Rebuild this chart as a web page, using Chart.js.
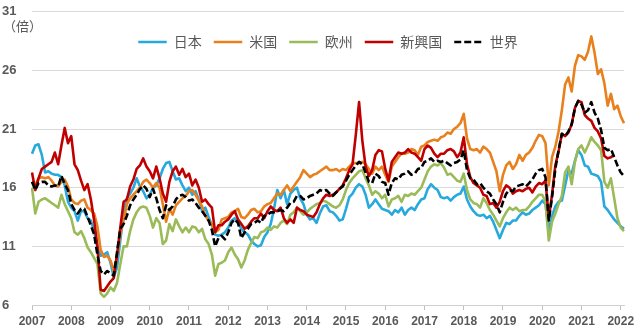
<!DOCTYPE html>
<html>
<head>
<meta charset="utf-8">
<script src="https://cdn.jsdelivr.net/npm/chart.js@4.4.1/dist/chart.umd.min.js"></script>
<style>
html,body{margin:0;padding:0;background:#ffffff;}
#wrap{width:640px;height:330px;}
</style>
</head>
<body>
<div id="wrap"><canvas id="c" width="640" height="330"></canvas></div>
<script>
// ---- data ----
const yearTicks = ['2007','2008','2009','2010','2011','2012','2013','2014','2015','2016','2017','2018','2019','2020','2021','2022'];
const lastYearMonths = 2; // data through Feb 2022
const seriesNames = ['日本','米国','欧州','新興国','世界'];
const unitLabel = '（倍）';

const japan = [
  18.9,19.6,19.7,18.8,17.3,17.4,17.2,17.1,17.1,16.9,16.2,14.8,
  14.3,14.0,13.2,14.0,14.0,13.4,13.2,12.3,10.9,10.2,10.3,10.5,
  9.6,8.4,9.2,11.5,13.8,15.1,15.5,16.0,16.8,16.1,15.7,15.1,
  15.4,16.0,16.2,16.8,17.6,18.1,18.2,17.4,16.7,16.8,16.2,15.7,
  16.0,15.4,15.7,15.0,14.0,14.3,13.5,12.8,12.0,11.9,12.0,12.2,
  12.6,13.2,13.4,13.0,12.5,12.2,12.0,11.5,11.2,11.0,11.1,11.8,
  12.2,12.9,14.2,15.8,15.1,15.8,14.6,15.5,15.8,16.0,15.1,14.6,
  13.7,13.3,13.4,13.0,13.8,14.4,14.5,14.0,13.9,13.6,13.2,13.3,
  14.2,15.2,15.5,16.0,16.3,16.1,15.4,14.3,14.6,15.0,14.6,14.2,
  14.1,14.0,13.7,14.1,13.9,14.3,13.7,14.1,14.3,14.1,14.6,15.0,
  15.1,15.9,16.3,16.0,15.8,15.2,15.1,15.2,14.9,15.2,15.4,15.5,
  16.1,15.0,14.4,14.0,13.7,13.6,13.7,13.4,13.6,13.1,12.4,11.7,
  12.4,13.0,12.9,13.2,13.2,13.6,13.9,13.7,13.8,14.1,14.3,14.5,
  14.9,14.6,12.3,13.6,14.4,14.8,14.9,16.2,17.5,17.2,18.3,19.2,
  18.8,17.9,17.8,17.2,17.1,17.0,16.5,14.4,14.1,13.7,13.3,13.0,
  12.7,12.5
];
const usa = [
  16.5,16.2,16.8,16.9,16.8,16.9,16.6,16.2,16.1,16.5,16.7,16.1,
  15.0,14.7,14.6,14.9,15.0,14.3,14.1,13.8,12.7,10.7,10.1,10.2,
  9.8,8.9,10.1,12.0,13.2,14.6,15.1,15.4,15.7,16.0,16.5,16.7,
  16.4,16.0,16.4,16.0,14.6,13.1,14.2,13.7,14.5,14.8,15.1,15.3,
  15.7,15.8,15.4,14.9,14.4,13.6,13.2,12.9,12.2,12.4,13.3,13.4,
  13.5,13.9,14.0,14.2,13.5,13.4,13.7,14.1,14.2,13.9,14.0,14.4,
  14.6,14.7,15.1,15.5,15.4,15.8,16.2,15.7,16.1,16.5,16.9,17.5,
  17.2,16.9,17.1,17.2,17.4,17.6,17.8,17.5,17.5,17.6,17.4,17.6,
  17.5,17.8,18.1,18.1,18.1,18.2,18.0,17.6,17.2,17.8,17.5,17.8,
  17.1,16.5,17.8,18.2,18.6,18.9,18.9,19.0,19.3,19.2,18.8,19.5,
  19.6,19.9,20.0,20.1,20.0,20.3,20.4,20.7,20.6,21.0,21.2,21.5,
  22.3,20.2,19.3,19.2,19.3,19.0,19.5,19.3,19.0,18.2,17.4,15.7,
  17.1,17.9,18.2,17.6,18.0,18.8,18.3,18.8,19.0,19.4,20.0,20.5,
  20.4,19.8,16.2,18.6,19.5,20.8,22.6,24.8,25.4,24.2,26.4,27.3,
  27.2,26.9,27.6,28.9,27.5,25.7,26.1,24.9,23.0,24.0,22.7,23.0,
  22.1,21.5
];
const europe = [
  16.0,13.8,14.8,15.0,15.1,14.9,14.7,14.5,14.3,15.4,14.6,14.0,
  13.4,12.2,12.0,12.3,11.7,10.9,10.5,10.0,9.5,7.0,6.7,7.0,
  7.5,7.2,7.9,9.5,11.0,11.0,12.3,13.3,13.9,14.3,14.4,14.3,
  13.6,12.6,13.4,13.0,11.2,11.5,12.9,12.3,13.3,12.7,12.2,12.6,
  12.2,12.7,12.6,12.2,12.5,11.6,11.2,10.3,8.5,9.5,9.6,9.8,
  10.5,10.9,10.3,9.9,9.2,9.8,10.7,11.3,11.8,11.7,12.2,12.3,
  12.6,12.4,12.7,12.6,13.0,13.2,12.9,13.7,13.9,14.3,14.0,13.7,
  13.9,14.2,14.4,14.6,14.7,14.9,14.8,14.6,14.4,14.3,14.5,15.0,
  15.8,16.4,16.8,17.1,17.4,17.5,16.8,16.2,15.4,15.7,15.5,15.1,
  15.4,14.4,15.0,15.1,15.3,14.8,15.4,15.3,15.5,15.4,15.7,16.0,
  16.7,17.4,17.8,18.0,17.9,18.1,17.7,17.1,17.2,16.9,16.6,16.5,
  17.2,15.8,15.0,14.7,14.6,14.3,15.1,14.7,14.1,13.7,13.2,12.7,
  13.4,13.9,14.3,14.1,14.3,14.0,14.1,14.1,14.4,14.8,15.1,15.4,
  15.4,14.8,11.5,13.1,13.8,14.6,15.3,17.3,17.8,16.3,18.2,19.3,
  19.6,19.0,19.6,20.3,19.9,19.6,19.2,16.5,16.0,16.8,15.1,13.4,
  12.6,12.3
];
const emerging = [
  17.3,15.8,16.8,17.6,17.8,18.0,18.2,19.0,18.0,19.6,21.1,19.8,
  20.4,18.0,17.5,16.6,15.8,16.3,15.0,13.2,11.0,7.3,7.2,7.6,
  8.0,8.3,10.3,12.6,14.8,15.0,16.1,16.7,17.6,17.9,18.5,17.8,
  17.4,16.8,17.8,16.8,15.5,14.8,16.5,17.4,17.8,17.1,17.6,16.9,
  17.2,16.2,16.7,16.0,14.8,15.0,14.6,14.3,12.2,12.8,12.8,13.1,
  13.3,13.7,14.0,13.3,12.9,12.5,12.7,13.1,13.4,13.4,13.8,13.4,
  14.0,14.4,14.1,14.0,14.3,13.4,13.0,13.3,13.0,14.3,14.1,14.0,
  13.7,13.6,13.5,13.9,14.6,15.1,15.4,15.3,15.4,15.6,15.9,16.2,
  16.8,17.5,18.0,20.5,23.3,20.0,17.8,17.0,17.5,18.8,19.2,19.1,
  17.6,16.6,18.2,18.6,19.0,18.9,19.0,19.3,19.0,18.9,18.6,18.3,
  19.3,19.6,19.4,18.9,18.6,18.9,18.9,19.2,19.3,19.1,18.6,19.0,
  20.3,18.0,16.9,16.4,16.2,16.0,15.4,15.3,14.6,14.7,14.3,14.8,
  15.7,16.2,16.0,15.5,15.7,15.8,15.7,15.9,16.0,15.6,16.1,16.4,
  16.3,16.6,13.4,15.4,17.9,19.1,20.6,20.4,20.7,21.4,22.8,23.4,
  23.3,22.2,21.9,21.7,21.1,20.8,20.2,18.7,18.5,18.6,18.8,null,
  null,null
];
const world = [
  16.5,15.8,16.4,16.5,16.5,16.2,16.1,16.2,16.1,17.0,16.3,15.8,
  14.6,14.1,13.8,14.2,14.2,13.5,12.8,12.0,10.3,8.9,8.6,8.9,
  8.7,8.5,10.5,12.5,12.9,13.6,14.5,15.0,15.4,15.9,16.2,15.9,
  15.2,15.9,15.1,14.1,13.4,14.5,14.1,14.4,15.0,15.3,15.4,15.2,
  14.9,15.0,14.7,14.3,14.0,13.6,13.2,12.4,11.0,11.7,11.9,11.6,
  12.2,13.0,13.3,13.0,11.7,12.2,12.5,12.9,13.0,13.2,13.0,13.6,
  13.7,13.9,13.9,14.0,14.1,14.0,14.3,14.7,14.8,15.3,15.3,15.0,
  15.1,15.3,15.4,15.5,15.8,15.7,15.8,15.5,15.3,15.6,15.9,16.1,
  16.6,17.1,17.5,17.9,18.2,18.0,17.3,16.5,16.4,17.2,17.0,16.5,
  16.4,15.4,16.4,16.8,16.7,17.1,17.2,17.4,17.1,17.2,17.6,17.7,
  18.2,18.3,18.5,18.2,18.3,18.2,18.3,18.1,17.9,18.1,18.2,18.4,
  19.2,17.5,16.8,16.7,16.3,16.4,16.0,15.7,15.5,15.0,14.6,13.9,
  14.8,15.5,15.8,15.7,16.1,16.2,16.3,16.1,16.4,16.7,17.2,17.5,
  17.6,16.9,13.2,15.2,17.6,19.2,20.6,20.4,20.8,21.4,22.8,23.4,
  23.1,22.4,22.6,23.3,22.4,21.9,20.9,19.4,19.2,19.3,18.6,17.9,
  17.3,17.0
];

// monthly category labels built from the year tick list
const monthLabels = [];
yearTicks.forEach((y, i) => {
  const n = (i === yearTicks.length - 1) ? lastYearMonths : 12;
  for (let m = 1; m <= n; m++) monthLabels.push(y + '-' + String(m).padStart(2, '0'));
});

const seriesValues = [japan, usa, europe, emerging, world];
const seriesColors = ['#27a9de', '#e8801e', '#9bbb59', '#c00000', '#000000'];
const seriesDash = [[], [], [], [], [7, 3]];
const seriesOrder = [5, 4, 3, 2, 1];

const tickFontY = { family: '"Liberation Sans", Arial, sans-serif', size: 13, weight: 'bold' };
const tickFontX = { family: '"Liberation Sans", Arial, sans-serif', size: 12, weight: 'bold' };
const cjk = '"Noto Sans CJK JP", "Noto Sans CJK SC", sans-serif';

function isYearStart(lbl) { return typeof lbl === 'string' && lbl.endsWith('-01'); }

const unitPlugin = {
  id: 'unitLabel',
  afterDraw(chart) {
    const ctx = chart.ctx;
    ctx.save();
    ctx.font = '13px ' + cjk;
    ctx.fillStyle = '#595959';
    ctx.textBaseline = 'middle';
    ctx.textAlign = 'left';
    ctx.fillText(unitLabel, 3, 26);
    ctx.restore();
  }
};

// let the legend float over the plot area (takes no layout height)
const overlayLegend = {
  id: 'overlayLegend',
  beforeLayout(chart) {
    const lg = chart.legend;
    if (lg && !lg._overlayPatched) {
      const orig = lg.fit;
      lg.fit = function () { orig.call(this); this._realHeight = this.height; this.height = 0; };
      lg._overlayPatched = true;
    }
  },
  afterLayout(chart) {
    const lg = chart.legend;
    if (lg && lg._realHeight) {
      lg.height = lg._realHeight;
      lg.bottom = lg.top + lg._realHeight;
    }
  }
};

function legendLabels(chart) {
  const legendPlugin = Chart.registry.getPlugin('legend');
  const base = legendPlugin.defaults.labels.generateLabels(chart);
  base.forEach((item) => {
    const ds = chart.data.datasets[item.datasetIndex];
    item.lineDash = ds.borderDash;
    item.lineWidth = ds.borderWidth;
    item.strokeStyle = ds.borderColor;
    item.fillStyle = ds.borderColor;
    item.pointStyle = 'line';
  });
  return base;
}

new Chart(document.getElementById('c'), {
  type: 'line',
  data: {
    labels: monthLabels,
    datasets: seriesNames.map((name, i) => ({
      label: name,
      data: seriesValues[i],
      borderColor: seriesColors[i],
      backgroundColor: seriesColors[i],
      borderWidth: 2.6,
      borderDash: seriesDash[i],
      pointRadius: 0,
      pointHoverRadius: 0,
      tension: 0,
      fill: false,
      spanGaps: false,
      order: seriesOrder[i]
    }))
  },
  options: {
    responsive: false,
    animation: false,
    devicePixelRatio: 1,
    layout: { padding: { left: 2, right: 16, top: 8, bottom: 0 } },
    elements: { line: { borderJoinStyle: 'round', borderCapStyle: 'butt' } },
    scales: {
      x: {
        type: 'category',
        offset: false,
        grid: {
          drawOnChartArea: false,
          drawTicks: true,
          tickLength: 5,
          color: (c) => (c.tick && c.tick.label) ? '#bfbfbf' : 'rgba(0,0,0,0)',
          tickColor: (c) => (c.tick && c.tick.label) ? '#bfbfbf' : 'rgba(0,0,0,0)'
        },
        border: { display: true, color: '#d0d0d0', width: 1 },
        ticks: {
          autoSkip: false,
          maxRotation: 0,
          minRotation: 0,
          padding: 4,
          color: '#595959',
          font: tickFontX,
          callback: function (v) {
            const l = this.getLabelForValue(v);
            return isYearStart(l) ? l.slice(0, 4) : '';
          }
        },
        afterFit: (s) => { s.height = 25; }
      },
      y: {
        min: 6,
        max: 31,
        ticks: { stepSize: 5, crossAlign: 'far', padding: 4, color: '#595959', font: tickFontY },
        grid: { color: '#d9d9d9', lineWidth: 1, drawTicks: false },
        border: { display: false },
        afterFit: (s) => { s.width = 30; }
      }
    },
    plugins: {
      legend: {
        position: 'top',
        align: 'center',
        fullSize: false,
        title: { display: true, text: ' ', font: { size: 1 }, padding: { top: 0, bottom: 10 } },
        labels: {
          usePointStyle: true,
          pointStyle: 'line',
          pointStyleWidth: 28.5,
          padding: 12,
          color: '#595959',
          font: { family: cjk, size: 14 },
          generateLabels: legendLabels,
          sort: (a, b) => a.datasetIndex - b.datasetIndex
        }
      },
      tooltip: { enabled: false }
    }
  },
  plugins: [unitPlugin, overlayLegend]
});
</script>
</body>
</html>
